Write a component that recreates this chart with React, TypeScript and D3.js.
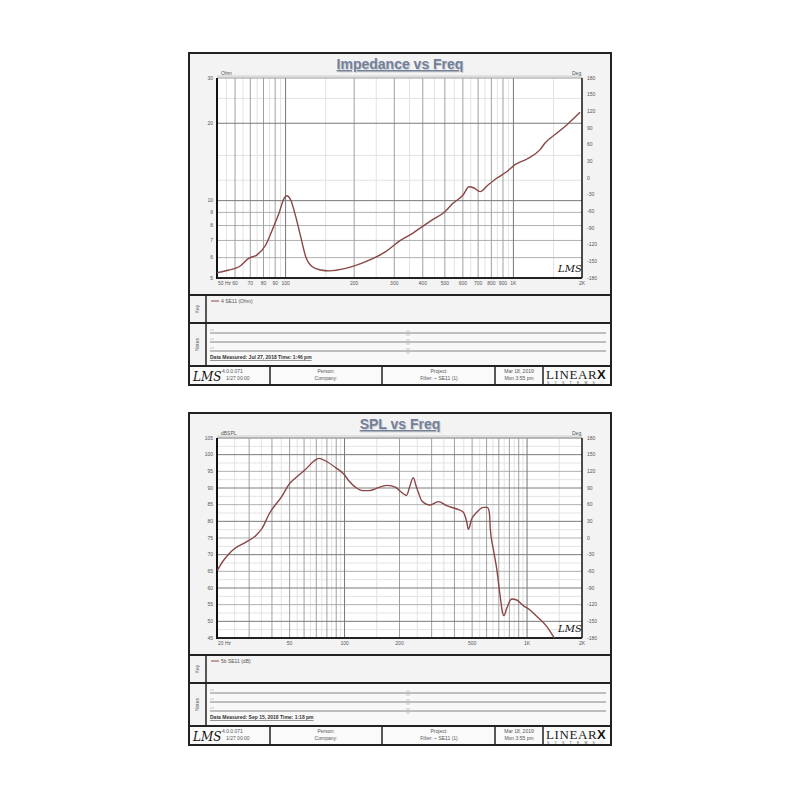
import React from "react";
import * as d3 from "d3";

// ---------- data ----------
const impFreq = [50, 56.5, 62.5, 69.1, 74.9, 81.8, 87.4, 93.6, 98.5, 101.2, 105.3, 110.8, 116.5, 122.6, 131, 142.6, 155.1, 183.6, 224.8, 275.1, 317.9, 362.4, 401.2, 443.9, 491, 543.2, 601.2, 638.6, 671.8, 713.9, 773.8, 847.6, 937.6, 1016.6, 1147, 1309, 1377, 1554, 1719, 1961];
const impOhm = [5.24, 5.37, 5.53, 5.97, 6.15, 6.72, 7.69, 8.95, 10.21, 10.45, 10.06, 8.66, 7.24, 6.05, 5.53, 5.37, 5.33, 5.45, 5.79, 6.33, 6.99, 7.48, 7.96, 8.46, 8.93, 9.76, 10.52, 11.33, 11.2, 10.84, 11.5, 12.25, 12.98, 13.8, 14.52, 15.79, 16.76, 18.33, 19.75, 22.07];

const splFreq = [20.1, 21.4, 23.3, 24.8, 28.7, 32.6, 35.4, 38.6, 45.6, 49.6, 54.0, 61.2, 68.0, 72.4, 78.8, 89.4, 99.3, 105.7, 115.1, 125.1, 136.1, 154.5, 171.5, 190.7, 201.3, 219.0, 226.9, 238.1, 246.3, 253.6, 264.7, 293.9, 326.3, 362.9, 411.8, 447.5, 467.1, 476.6, 497.5, 530, 575.9, 605.7, 621.2, 628.9, 653.2, 681.8, 710.8, 735.4, 747.5, 773.4, 823.9, 877.6, 953.7, 1038, 1129, 1281, 1392, 1515];
const splDb = [65.3, 67.8, 70.3, 71.7, 73.7, 75.7, 78.0, 82.2, 87.7, 91.1, 93.1, 95.6, 98.1, 98.9, 98.1, 96.1, 94.1, 92.1, 90.2, 89.2, 89.2, 90.2, 90.8, 90.2, 89.1, 87.8, 90.2, 93.1, 90.7, 88.7, 86.2, 84.9, 85.9, 84.7, 83.7, 82.7, 79.8, 77.6, 80.7, 82.7, 84.2, 84.2, 82.7, 77.7, 71.7, 65.8, 57.9, 52.4, 51.7, 53.9, 56.7, 56.4, 54.7, 53.4, 51.5, 48.5, 45.5, 42.6];

const impXDomain = [50, 2000];
const impXTicks = [50, 60, 70, 80, 90, 100, 200, 300, 400, 500, 600, 700, 800, 900, 1000, 2000];
const impXTickLabels = ["50 Hz", "60", "70", "80", "90", "100", "200", "300", "400", "500", "600", "700", "800", "900", "1K", "2K"];
const impYDomain = [5, 30];
const impYTicks = [5, 6, 7, 8, 9, 10, 20, 30];
const impYMinor = [12, 15, 25];

const splXDomain = [20, 2000];
const splXTicks = [20, 50, 100, 200, 500, 1000, 2000];
const splXTickLabels = ["20 Hz", "50", "100", "200", "500", "1K", "2K"];
const splYDomain = [45, 105];
const splYTicks = [45, 50, 55, 60, 65, 70, 75, 80, 85, 90, 95, 100, 105];

const phaseDomain = [-180, 180];
const phaseTicks = [180, 150, 120, 90, 60, 30, 0, -30, -60, -90, -120, -150, -180];

const FONT = "'Liberation Sans', Arial, sans-serif";
const CURVE = "#8a4646";

type PanelProps = {
  top: number;
  title: string;
  kind: "imp" | "spl";
  unit: string;
  keyText: string;
  measured: string;
};

function decadeGrid(dom: number[]) {
  const major: number[] = [];
  const minor: number[] = [];
  const decades: number[] = [];
  let dec = Math.pow(10, Math.floor(Math.log10(dom[0])));
  while (dec < dom[1]) {
    for (let m = 1; m <= 9; m++) {
      const v = m * dec;
      const h = (m + 0.5) * dec;
      if (v > dom[0] && v < dom[1]) {
        if (m === 1) decades.push(v);
        else major.push(v);
      }
      if (h > dom[0] && h < dom[1]) minor.push(h);
    }
    dec *= 10;
  }
  return { major, minor, decades };
}

function Panel({ top, title, kind, unit, keyText, measured }: PanelProps) {
  const pL = 217, pR = 582, pT = top + 25, pB = top + 225;
  const isImp = kind === "imp";
  const x = d3.scaleLog().domain(isImp ? impXDomain : splXDomain).range([pL, pR]);
  const y: any = isImp
    ? d3.scaleLog().domain(impYDomain).range([pB, pT])
    : d3.scaleLinear().domain(splYDomain).range([pB, pT]);
  const yPh = d3.scaleLinear().domain(phaseDomain).range([pB, pT]);
  const g = decadeGrid(isImp ? impXDomain : splXDomain);

  const pts: [number, number][] = isImp
    ? (d3.zip(impFreq, impOhm) as [number, number][])
    : (d3.zip(splFreq, splDb) as [number, number][]);
  const line = d3
    .line<[number, number]>()
    .x((d) => x(d[0]))
    .y((d) => y(d[1]))
    .curve(d3.curveMonotoneX);

  const hDark: number[] = [];
  const hMid: number[] = [];
  const hLight: number[] = [];
  if (isImp) {
    impYTicks.forEach((v) => {
      if (v === 10 || v === 20) hDark.push(v);
      else if (v < 10) hMid.push(v);
    });
    impYMinor.forEach((v) => hLight.push(v));
  } else {
    splYTicks.forEach((v) => {
      if (v % 10 === 0) hDark.push(v);
      else hMid.push(v);
      if (v + 2.5 < splYDomain[1]) hLight.push(v + 2.5);
    });
  }
  const ticksX = isImp ? impXTicks : splXTicks;
  const ticksXL = isImp ? impXTickLabels : splXTickLabels;
  const ticksY = isImp ? impYTicks : splYTicks;

  const s1 = top + 242;
  const s2 = top + 270;
  const s3 = top + 313;
  const bot = top + 332;
  const clipId = "clip-" + kind;
  const tiny = { fontFamily: FONT, fontSize: 5, fill: "#555" } as const;

  return (
    <g>
      <defs>
        <clipPath id={clipId}>
          <rect x={pL} y={pT} width={pR - pL} height={pB - pT} />
        </clipPath>
      </defs>
      <rect x={189} y={top} width={422} height={bot - top} fill="#f3f3f3" stroke="#222" strokeWidth={2} />
      <text x={401} y={top + 17} textAnchor="middle" fontFamily={FONT} fontSize={14} fontWeight="bold" fill="#cfcfcf" style={{ textDecoration: "underline" }}>
        {title}
      </text>
      <text x={400} y={top + 16} textAnchor="middle" fontFamily={FONT} fontSize={14} fontWeight="bold" fill="#72809a" style={{ textDecoration: "underline" }}>
        {title}
      </text>
      <rect x={pL} y={pT} width={pR - pL} height={pB - pT} fill="#fff" />
      {g.minor.map((v, i) => (
        <line key={"vm" + i} x1={x(v)} x2={x(v)} y1={pT} y2={pB} stroke="#e3e3e3" strokeWidth={1} />
      ))}
      {hLight.map((v, i) => (
        <line key={"hl" + i} x1={pL} x2={pR} y1={y(v)} y2={y(v)} stroke="#e3e3e3" strokeWidth={1} />
      ))}
      {hMid.map((v, i) => (
        <line key={"hm" + i} x1={pL} x2={pR} y1={y(v)} y2={y(v)} stroke="#b0b0b0" strokeWidth={1} />
      ))}
      {g.major.map((v, i) => (
        <line key={"vM" + i} x1={x(v)} x2={x(v)} y1={pT} y2={pB} stroke="#a0a0a0" strokeWidth={1} />
      ))}
      {g.decades.map((v, i) => (
        <line key={"vd" + i} x1={x(v)} x2={x(v)} y1={pT} y2={pB} stroke="#777" strokeWidth={1} />
      ))}
      {hDark.map((v, i) => (
        <line key={"hd" + i} x1={pL} x2={pR} y1={y(v)} y2={y(v)} stroke="#7a7a7a" strokeWidth={1} />
      ))}
      <line x1={pL} x2={pR} y1={pT} y2={pT} stroke="#999" strokeWidth={1} />
      <line x1={pL} x2={pR} y1={pT - 2} y2={pT - 2} stroke="#ccc" strokeWidth={1} />
      <line x1={pR} x2={pR} y1={pT} y2={pB} stroke="#111" strokeWidth={1.5} />
      <line x1={pL} x2={pL} y1={pT} y2={pB + 1} stroke="#111" strokeWidth={2} />
      <line x1={pL} x2={pR} y1={pB} y2={pB} stroke="#222" strokeWidth={2} />
      <path d={line(pts) || ""} fill="none" stroke={CURVE} strokeWidth={1.4} clipPath={`url(#${clipId})`} />
      <text x={pR - 24} y={pB - 6} fontFamily="'DejaVu Serif', serif" fontStyle="italic" fontSize={10} fill="#111">
        LMS
      </text>
      <text x={pL + 4} y={pT - 3} {...tiny}>{unit}</text>
      <text x={pR - 10} y={pT - 3} {...tiny}>Deg</text>
      {ticksY.map((v, i) => (
        <text key={"yl" + i} x={pL - 4} y={y(v) + 1.8} textAnchor="end" {...tiny}>
          {v}
        </text>
      ))}
      {phaseTicks.map((v, i) => (
        <text key={"pl" + i} x={pR + 5} y={yPh(v) + 1.8} {...tiny}>
          {v}
        </text>
      ))}
      {ticksX.map((v, i) => (
        <text key={"xl" + i} x={x(v) + (i === 0 ? 1 : 0)} y={pB + 7} textAnchor={i === 0 ? "start" : "middle"} {...tiny}>
          {ticksXL[i]}
        </text>
      ))}
      <line x1={189} x2={611} y1={s1} y2={s1} stroke="#222" strokeWidth={2} />
      <line x1={189} x2={611} y1={s2} y2={s2} stroke="#222" strokeWidth={2} />
      <line x1={189} x2={611} y1={s3} y2={s3} stroke="#222" strokeWidth={2} />
      <line x1={206} x2={206} y1={s1} y2={s3} stroke="#222" strokeWidth={1.5} />
      <rect x={207} y={s2 + 1} width={403} height={s3 - s2 - 2} fill="#f8f8f8" />
      <text transform={`translate(199,${(s1 + s2) / 2}) rotate(-90)`} textAnchor="middle" {...tiny}>Key</text>
      <text transform={`translate(199,${(s2 + s3) / 2}) rotate(-90)`} textAnchor="middle" {...tiny}>Notes</text>
      <line x1={211} x2={219} y1={s1 + 6} y2={s1 + 6} stroke={CURVE} strokeWidth={1} />
      <text x={221} y={s1 + 7.5} {...tiny}>{keyText}</text>
      {[10, 19, 28].map((d, i) => (
        <g key={"nl" + i}>
          <line x1={210} x2={606} y1={s2 + d} y2={s2 + d} stroke="#666" strokeWidth={0.8} />
          <line x1={210} x2={214} y1={s2 + d - 3} y2={s2 + d - 3} stroke="#aaa" strokeWidth={0.6} />
          <line x1={406} x2={410} y1={s2 + d - 2} y2={s2 + d - 2} stroke="#aaa" strokeWidth={0.6} />
          <line x1={406} x2={410} y1={s2 + d + 2} y2={s2 + d + 2} stroke="#aaa" strokeWidth={0.6} />
        </g>
      ))}
      <text x={210} y={s2 + 36} fontFamily={FONT} fontSize={5} fontWeight="bold" fill="#333" style={{ textDecoration: "underline" }}>
        {measured}
      </text>
      <rect x={190} y={s3 + 1} width={420} height={bot - s3 - 2} fill="#fafafa" />
      {[270, 382, 495, 543].map((xv, i) => (
        <line key={"fd" + i} x1={xv} x2={xv} y1={s3} y2={bot} stroke="#222" strokeWidth={1.5} />
      ))}
      <text x={193} y={s3 + 15} fontFamily="'DejaVu Serif', serif" fontStyle="italic" fontSize={12} fill="#111">
        LMS
      </text>
      <text x={222} y={s3 + 7} {...tiny}>4.0.0.071</text>
      <text x={226} y={s3 + 14} {...tiny}>1/27   00:00</text>
      <text x={326} y={s3 + 7} textAnchor="middle" {...tiny}>Person:</text>
      <text x={326} y={s3 + 14} textAnchor="middle" {...tiny}>Company:</text>
      <text x={439} y={s3 + 7} textAnchor="middle" {...tiny}>Project:</text>
      <text x={439} y={s3 + 14} textAnchor="middle" {...tiny}>Filter: ~ SE11 (1)</text>
      <text x={519} y={s3 + 7} textAnchor="middle" {...tiny}>Mar 18, 2019</text>
      <text x={519} y={s3 + 14} textAnchor="middle" {...tiny}>Mon 3:55 pm</text>
      <text x={546} y={s3 + 13} fontFamily="'Liberation Serif', serif" fontSize={13} fill="#222" letterSpacing={0.6}>
        LINEAR
      </text>
      <text x={597} y={s3 + 13} fontFamily={FONT} fontWeight="bold" fontSize={13} fill="#111">
        X
      </text>
      <text x={547} y={s3 + 17.5} fontFamily={FONT} fontSize={3.5} fill="#555" letterSpacing={5.2}>
        SYSTEMS
      </text>
    </g>
  );
}

export default function App() {
  return (
    <svg width={800} height={800} style={{ position: "absolute", left: 0, top: 0, background: "#fff" }}>
      <rect x={0} y={0} width={800} height={800} fill="#fff" />
      <Panel
        top={53}
        title="Impedance vs Freq"
        kind="imp"
        unit="Ohm"
        keyText="4   SE11 (Ohm)"
        measured="Data Measured: Jul 27, 2018  Time: 1:46 pm"
      />
      <Panel
        top={413}
        title="SPL vs Freq"
        kind="spl"
        unit="dBSPL"
        keyText="5b   SE11 (dB)"
        measured="Data Measured: Sep 15, 2018  Time: 1:18 pm"
      />
    </svg>
  );
}
